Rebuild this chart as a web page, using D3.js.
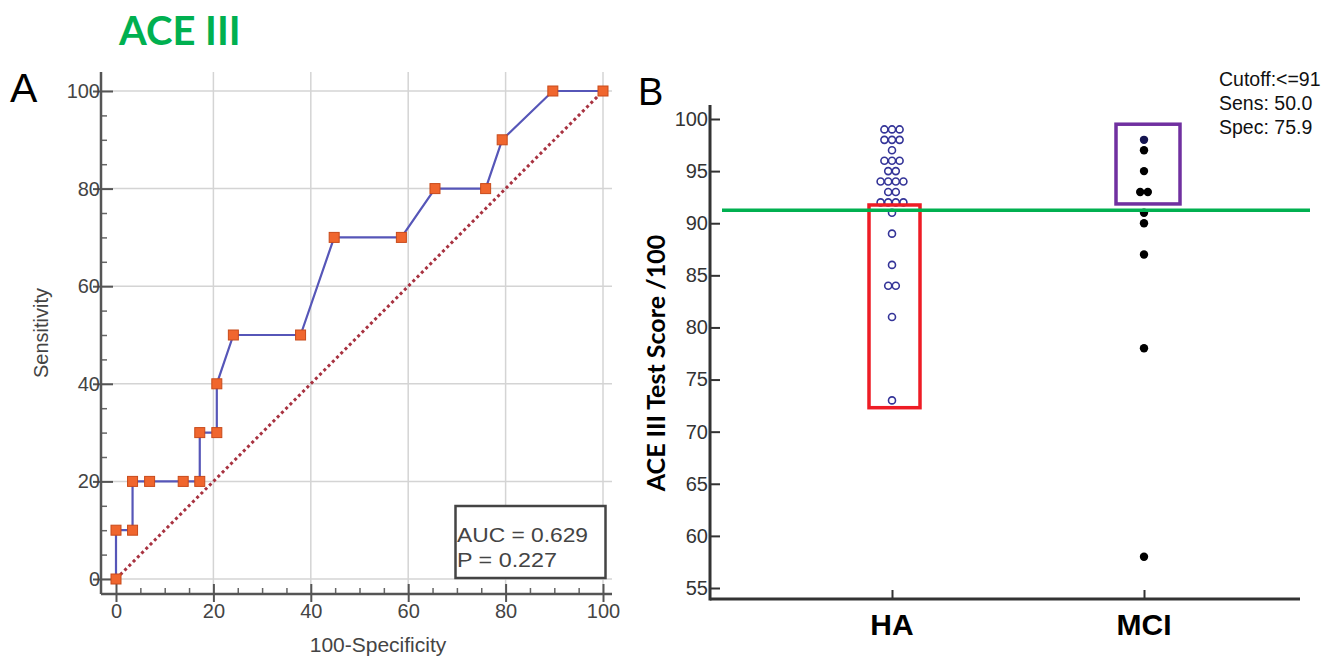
<!DOCTYPE html>
<html>
<head>
<meta charset="utf-8">
<script src="https://cdn.jsdelivr.net/npm/d3@7"></script>
<style>
  html, body { margin: 0; padding: 0; background: #ffffff; }
  svg { display: block; }
</style>
</head>
<body>
<svg id="chart" width="1331" height="657"></svg>
<script>
// ---------- DATA ----------
// Panel A: ROC curve (100-Specificity, Sensitivity)
const rocFpr  = [0, 0, 3.4, 3.4, 6.9, 13.8, 17.2, 17.2, 20.7, 20.7, 24.1, 37.9, 44.8, 58.6, 65.5, 75.9, 79.3, 89.7, 100];
const rocSens = [0, 10, 10, 20, 20, 20, 20, 30, 30, 40, 50, 50, 70, 70, 80, 80, 90, 100, 100];
const rocTicks = [0, 20, 40, 60, 80, 100];
const rocMinorTicks = [5, 10, 15, 25, 30, 35, 45, 50, 55, 65, 70, 75, 85, 90, 95];
const aucText = ["AUC = 0.629", "P = 0.227"];

// Panel B: dot plot of ACE III scores
const groups = ["HA", "MCI"];
const haScores  = [99, 99, 99, 98, 98, 98, 97, 96, 96, 96, 95, 95, 94, 94, 94, 94, 93, 93, 92, 92, 92, 92, 91, 89, 86, 84, 84, 81, 73];
const mciScores = [98, 97, 95, 93, 93, 91, 90, 87, 78, 58];
const scoreTicks = [55, 60, 65, 70, 75, 80, 85, 90, 95, 100];
const cutoffLineValue = 91.25;
const statsText = ["Cutoff:<=91", "Sens: 50.0", "Spec: 75.9"];
// highlight boxes (score ranges)
const boxHA  = [72.3, 91.75];
const boxMCI = [91.85, 99.5];

// ---------- DRAW ----------
const svg = d3.select("#chart");
const ARIAL = "'Liberation Sans', Arial, sans-serif";
const CALIBRI = "Lato, 'Open Sans', sans-serif";

// Title and panel letters
svg.append("text").attr("x", 119).attr("y", 45)
  .attr("font-family", CALIBRI).attr("font-weight", 700).attr("font-size", 40)
  .attr("fill", "#00b050").text("ACE III");
svg.append("text").attr("x", 10).attr("y", 102)
  .attr("font-family", ARIAL).attr("font-size", 41).attr("fill", "#000").text("A");
svg.append("text").attr("x", 638).attr("y", 105)
  .attr("font-family", ARIAL).attr("font-size", 38).attr("fill", "#000").text("B");

// ===== Panel A =====
const xA = d3.scaleLinear().domain([0, 100]).range([116, 603]);
const yA = d3.scaleLinear().domain([0, 100]).range([579, 91]);
const axXA = 101, axYA = 594;
const gA = svg.append("g");

// grid
gA.append("g").selectAll("line").data(rocTicks.filter(d => d > 0)).join("line")
  .attr("x1", d => xA(d)).attr("x2", d => xA(d)).attr("y1", 72).attr("y2", axYA)
  .attr("stroke", "#d4d4d4").attr("stroke-width", 1.5);
gA.append("g").selectAll("line").data(rocTicks).join("line")
  .attr("x1", axXA).attr("x2", 612).attr("y1", d => yA(d)).attr("y2", d => yA(d))
  .attr("stroke", "#d4d4d4").attr("stroke-width", 1.5);

// axes (major + minor ticks)
const yAxisA = gA.append("g").attr("transform", `translate(${axXA},0)`)
  .call(d3.axisLeft(yA).tickValues(rocTicks).tickSize(8).tickSizeOuter(0).tickFormat(d3.format("d")));
yAxisA.select(".domain").remove();
yAxisA.selectAll(".tick line").attr("x1", -8).attr("x2", 12).attr("stroke", "#555").attr("stroke-width", 2);
yAxisA.selectAll(".tick text").attr("x", -1).attr("font-family", ARIAL).attr("font-size", 20).attr("fill", "#444");
gA.append("g").attr("transform", `translate(${axXA},0)`)
  .call(d3.axisRight(yA).tickValues(rocMinorTicks).tickSize(6).tickFormat(""))
  .call(g => g.select(".domain").remove())
  .selectAll(".tick line").attr("stroke", "#666").attr("stroke-width", 1.5);

const xAxisA = gA.append("g").attr("transform", `translate(0,${axYA})`)
  .call(d3.axisBottom(xA).tickValues(rocTicks).tickSize(8).tickSizeOuter(0).tickFormat(d3.format("d")));
xAxisA.select(".domain").remove();
xAxisA.selectAll(".tick line").attr("y1", -10).attr("y2", 8).attr("stroke", "#555").attr("stroke-width", 2);
xAxisA.selectAll(".tick text").attr("y", 10).attr("font-family", ARIAL).attr("font-size", 20).attr("fill", "#444");
gA.append("g").attr("transform", `translate(0,${axYA})`)
  .call(d3.axisTop(xA).tickValues(rocMinorTicks).tickSize(6).tickFormat(""))
  .call(g => g.select(".domain").remove())
  .selectAll(".tick line").attr("stroke", "#666").attr("stroke-width", 1.5);

gA.append("line").attr("x1", axXA).attr("x2", axXA).attr("y1", 72).attr("y2", axYA)
  .attr("stroke", "#555").attr("stroke-width", 2.5);
gA.append("line").attr("x1", axXA).attr("x2", 612).attr("y1", axYA).attr("y2", axYA)
  .attr("stroke", "#555").attr("stroke-width", 2.5);

// axis titles
gA.append("text").attr("transform", `translate(48,333) rotate(-90)`)
  .attr("text-anchor", "middle").attr("font-family", ARIAL).attr("font-size", 20).attr("fill", "#444")
  .text("Sensitivity");
gA.append("text").attr("x", 378).attr("y", 652)
  .attr("text-anchor", "middle").attr("font-family", ARIAL).attr("font-size", 21).attr("fill", "#444")
  .text("100-Specificity");

// diagonal reference
gA.append("line").attr("x1", xA(0)).attr("y1", yA(0)).attr("x2", xA(100)).attr("y2", yA(100))
  .attr("stroke", "#a83240").attr("stroke-width", 3).attr("stroke-dasharray", "3,3");

// ROC curve
const rocData = rocFpr.map((f, i) => ({ x: f, y: rocSens[i] }));
gA.append("path").datum(rocData)
  .attr("d", d3.line().x(d => xA(d.x)).y(d => yA(d.y)))
  .attr("fill", "none").attr("stroke", "#5656b8").attr("stroke-width", 2.2);
gA.append("g").selectAll("rect").data(rocData).join("rect")
  .attr("x", d => xA(d.x) - 5).attr("y", d => yA(d.y) - 5).attr("width", 10).attr("height", 10)
  .attr("fill", "#f0662e").attr("stroke", "#c84a1a").attr("stroke-width", 1);

// AUC box
gA.append("rect").attr("x", 455.5).attr("y", 506).attr("width", 150).attr("height", 72)
  .attr("fill", "#fff").attr("stroke", "#444").attr("stroke-width", 2.5);
gA.append("g").selectAll("text").data(aucText).join("text")
  .attr("x", 457).attr("y", (d, i) => 542 + i * 25)
  .attr("font-family", ARIAL).attr("font-size", 20).attr("fill", "#444")
  .attr("textLength", (d, i) => i === 0 ? 131 : 100).attr("lengthAdjust", "spacingAndGlyphs")
  .text(d => d);

// ===== Panel B =====
const yB = d3.scaleLinear().domain([55, 100]).range([588, 119]);
const xB = d3.scalePoint().domain(groups).range([892, 1144]);
const axXB = 710, axYB = 599;
const gB = svg.append("g");

const yAxisB = gB.append("g").attr("transform", `translate(${axXB},0)`)
  .call(d3.axisRight(yB).tickValues(scoreTicks).tickSize(10).tickSizeOuter(0));
yAxisB.select(".domain").remove();
yAxisB.selectAll(".tick line").attr("stroke", "#333").attr("stroke-width", 2);
yAxisB.selectAll(".tick text").attr("x", -2).attr("text-anchor", "end")
  .attr("font-family", ARIAL).attr("font-size", 20).attr("fill", "#333");

const xAxisB = gB.append("g").attr("transform", `translate(0,${axYB})`)
  .call(d3.axisTop(xB).tickSize(9).tickSizeOuter(0).tickFormat(""));
xAxisB.select(".domain").remove();
xAxisB.selectAll(".tick line").attr("stroke", "#333").attr("stroke-width", 2);
gB.append("g").selectAll("text").data(groups).join("text")
  .attr("x", d => xB(d)).attr("y", 635).attr("text-anchor", "middle")
  .attr("font-family", ARIAL).attr("font-weight", 700).attr("font-size", 30).attr("fill", "#000")
  .text(d => d);

gB.append("line").attr("x1", axXB).attr("x2", axXB).attr("y1", 105).attr("y2", axYB + 1.5)
  .attr("stroke", "#333").attr("stroke-width", 3);
gB.append("line").attr("x1", axXB).attr("x2", 1300).attr("y1", axYB).attr("y2", axYB)
  .attr("stroke", "#333").attr("stroke-width", 3);

gB.append("text").attr("transform", `translate(665,363) rotate(-90)`)
  .attr("text-anchor", "middle").attr("font-family", CALIBRI).attr("font-weight", 700)
  .attr("font-size", 25).attr("fill", "#000").text("ACE III Test Score /100");

// dots
function spread(values, group) {
  const counts = d3.rollup(values, v => v.length, d => d);
  const seen = new Map();
  return values.map(v => {
    const n = counts.get(v);
    const k = seen.get(v) || 0;
    seen.set(v, k + 1);
    return { group, v, off: (k - (n - 1) / 2) * 7.6 };
  });
}
gB.append("g").selectAll("circle").data(spread(haScores, "HA")).join("circle")
  .attr("cx", d => xB(d.group) + d.off).attr("cy", d => yB(d.v)).attr("r", 3.5)
  .attr("fill", "#fff").attr("stroke", "#343498").attr("stroke-width", 1.6);
gB.append("g").selectAll("circle").data(spread(mciScores, "MCI")).join("circle")
  .attr("cx", d => xB(d.group) + d.off).attr("cy", d => yB(d.v)).attr("r", 4.2)
  .attr("fill", (d, i) => i === 0 ? "#141450" : "#000");

// highlight boxes
gB.append("rect").attr("x", xB("HA") - 23).attr("width", 51)
  .attr("y", yB(boxHA[1])).attr("height", yB(boxHA[0]) - yB(boxHA[1]))
  .attr("fill", "none").attr("stroke", "#ee1c25").attr("stroke-width", 3.5);
gB.append("rect").attr("x", xB("MCI") - 28).attr("width", 64)
  .attr("y", yB(boxMCI[1])).attr("height", yB(boxMCI[0]) - yB(boxMCI[1]))
  .attr("fill", "none").attr("stroke", "#7030a0").attr("stroke-width", 3.5);

// cutoff line
gB.append("line").attr("x1", 722).attr("x2", 1310)
  .attr("y1", yB(cutoffLineValue)).attr("y2", yB(cutoffLineValue))
  .attr("stroke", "#00b050").attr("stroke-width", 3.5);

// stats text
gB.append("g").selectAll("text").data(statsText).join("text")
  .attr("x", 1219).attr("y", (d, i) => 86 + i * 24)
  .attr("font-family", ARIAL).attr("font-size", 19.5).attr("fill", "#111")
  .text(d => d);
</script>
</body>
</html>
